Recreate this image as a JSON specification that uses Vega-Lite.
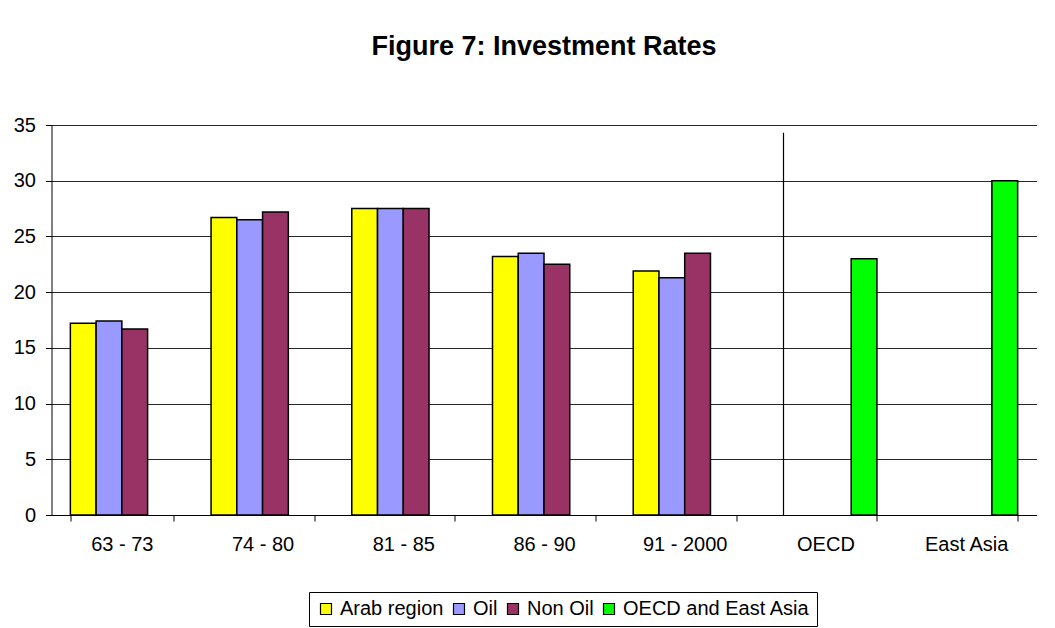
{
  "$schema": "https://vega.github.io/schema/vega-lite/v6.json",
  "autosize": "none",
  "width": 985,
  "height": 390,
  "padding": {"left": 51.5, "top": 125, "right": 18.5, "bottom": 113},
  "background": "white",
  "title": {
    "text": "Figure 7: Investment Rates",
    "font": "Liberation Sans",
    "fontSize": 27,
    "fontWeight": "bold",
    "color": "black",
    "anchor": "middle",
    "offset": 54
  },
  "data": {
    "values": [
      {"cat": "63 - 73", "series": "Arab region", "value": 17.2},
      {"cat": "63 - 73", "series": "Oil", "value": 17.4},
      {"cat": "63 - 73", "series": "Non Oil", "value": 16.7},
      {"cat": "74 - 80", "series": "Arab region", "value": 26.7},
      {"cat": "74 - 80", "series": "Oil", "value": 26.5},
      {"cat": "74 - 80", "series": "Non Oil", "value": 27.2},
      {"cat": "81 - 85", "series": "Arab region", "value": 27.5},
      {"cat": "81 - 85", "series": "Oil", "value": 27.5},
      {"cat": "81 - 85", "series": "Non Oil", "value": 27.5},
      {"cat": "86 - 90", "series": "Arab region", "value": 23.2},
      {"cat": "86 - 90", "series": "Oil", "value": 23.5},
      {"cat": "86 - 90", "series": "Non Oil", "value": 22.5},
      {"cat": "91 - 2000", "series": "Arab region", "value": 21.9},
      {"cat": "91 - 2000", "series": "Oil", "value": 21.3},
      {"cat": "91 - 2000", "series": "Non Oil", "value": 23.5},
      {"cat": "OECD", "series": "OECD and East Asia", "value": 23.0},
      {"cat": "East Asia", "series": "OECD and East Asia", "value": 30.0}
    ]
  },
  "config": {
    "font": "Liberation Sans",
    "view": {"stroke": null},
    "axis": {
      "labelFont": "Liberation Sans",
      "labelFontSize": 20,
      "labelColor": "black",
      "domainColor": "black",
      "tickColor": "black",
      "gridColor": "black",
      "gridOpacity": 0.85
    }
  },
  "layer": [
    {
      "mark": {"type": "bar", "stroke": "black", "strokeWidth": 1.5},
      "encoding": {
        "x": {
          "field": "cat",
          "type": "nominal",
          "sort": ["63 - 73", "74 - 80", "81 - 85", "86 - 90", "91 - 2000", "OECD", "East Asia"],
          "scale": {"domain": ["63 - 73", "74 - 80", "81 - 85", "86 - 90", "91 - 2000", "OECD", "East Asia"], "paddingInner": 0.268, "paddingOuter": 0.134},
          "axis": {"title": null, "labelAngle": 0, "tickBand": "extent", "tickSize": 6, "labelPadding": 13, "grid": false}
        },
        "xOffset": {
          "field": "series",
          "type": "nominal",
          "scale": {"domain": ["Arab region", "Oil", "Non Oil", "OECD and East Asia"], "padding": 0}
        },
        "y": {
          "field": "value",
          "type": "quantitative",
          "scale": {"domain": [0, 35], "nice": false},
          "axis": {"title": null, "values": [0, 5, 10, 15, 20, 25, 30, 35], "tickSize": 6, "labelPadding": 10, "grid": true}
        },
        "color": {
          "field": "series",
          "type": "nominal",
          "scale": {
            "domain": ["Arab region", "Oil", "Non Oil", "OECD and East Asia"],
            "range": ["#FFFF00", "#9999FF", "#993366", "#00FF00"]
          },
          "legend": {
            "title": null,
            "orient": "none",
            "legendX": 257.5,
            "legendY": 467,
            "direction": "horizontal",
            "columns": 4,
            "strokeColor": "black",
            "fillColor": "white",
            "padding": 7,
            "symbolType": "square",
            "symbolSize": 121,
            "symbolStrokeColor": "black",
            "symbolStrokeWidth": 1.2,
            "symbolOpacity": 1,
            "labelFont": "Liberation Sans",
            "labelFontSize": 20,
            "labelColor": "black",
            "labelLimit": 400,
            "labelOffset": 4,
            "columnPadding": 5
          }
        }
      }
    },
    {
      "data": {"values": [{"cat": "OECD", "top": 34.3}]},
      "mark": {"type": "rule", "color": "black", "strokeWidth": 1.2},
      "encoding": {
        "x": {"field": "cat", "type": "nominal", "bandPosition": 0.093},
        "y": {"field": "top", "type": "quantitative"},
        "y2": {"datum": 0}
      }
    }
  ]
}
